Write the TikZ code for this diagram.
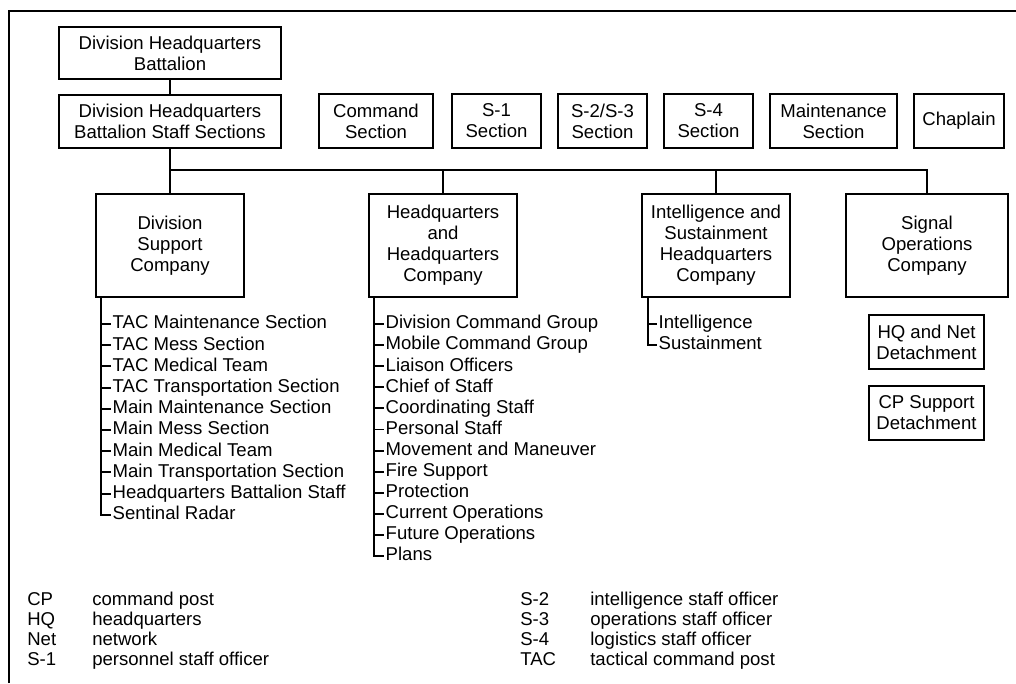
\documentclass[tikz,border=0pt]{standalone}
\usepackage{fontspec}
\setmainfont{Liberation Sans}
\usetikzlibrary{positioning,calc}

\begin{document}
\begin{tikzpicture}[x=0.025cm,y=-0.025cm,
    font=\fontsize{13.2}{14.9}\selectfont,
    box/.style={draw,line width=1.4pt,align=center,inner sep=0pt},
    sect/.style={box,minimum width=2.225cm,minimum height=1.35cm},
    co/.style={box,minimum width=3.7cm,minimum height=2.575cm},
    det/.style={box,minimum width=2.875cm,minimum height=1.35cm},
    wire/.style={line width=1.4pt},
    item/.style={anchor=west,inner xsep=1pt,inner ysep=0pt,text height=9.5pt,text depth=2.6pt},
    legtxt/.style={anchor=west,inner sep=0pt,text height=9.5pt,text depth=2.6pt}]
    \useasboundingbox (0,0) rectangle (1016,683);
    \draw[wire] (9,683) |- (1016,11);
    \node[box,minimum width=5.55cm,minimum height=1.3cm] (dhb) at (170,53)
      {Division Headquarters\\Battalion};
    \node[box,minimum width=5.55cm,minimum height=1.32cm] (dhbss) at (170,121.5)
      {Division Headquarters\\Battalion Staff Sections};
    \node[box,minimum width=2.85cm,minimum height=1.35cm] (cmd) at (376,121) {Command\\Section};
    \node[sect,right=0.425cm of cmd] (s1) {S-1\\Section};
    \node[sect,right=0.375cm of s1] (s23) {S-2/S-3\\Section};
    \node[sect,right=0.375cm of s23] (s4) {S-4\\Section};
    \node[sect,minimum width=3.175cm,right=0.375cm of s4] (mnt) {Maintenance\\Section};
    \node[sect,minimum width=2.25cm,right=0.375cm of mnt] (chap) {Chaplain};
    \node[co] (dsc) at (170,245.5) {Division\\Support\\Company};
    \node[co] (hhc) at (443,245.5) {Headquarters\\and\\Headquarters\\Company};
    \node[co] (ishq) at (716,245.5) {Intelligence and\\Sustainment\\Headquarters\\Company};
    \node[co,minimum width=4.05cm] (soc) at (927,245.5) {Signal\\Operations\\Company};
    \node[det] (hqnet) at (926.5,342) {HQ and Net\\Detachment};
    \node[det,below=0.375cm of hqnet] (cpsup) {CP Support\\Detachment};
    \coordinate (bus) at (0,170);
    \draw[wire] (dhb) -- (dhbss);
    \draw[wire] (dhbss) -- (dsc);
    \draw[wire] (dsc.north |- bus) -| (soc.north);
    \foreach \c in {hhc,ishq}
      \draw[wire] (\c.north |- bus) -- (\c.north);
    \coordinate (dsct) at ($(dsc.south west)+(6,0)$);
    \coordinate (hhct) at ($(hhc.south west)+(6,0)$);
    \coordinate (ishqt) at ($(ishq.south west)+(7,0)$);
    \foreach \t [count=\i] in {TAC Maintenance Section,TAC Mess Section,TAC Medical Team,
        TAC Transportation Section,Main Maintenance Section,Main Mess Section,Main Medical Team,
        Main Transportation Section,Headquarters Battalion Staff,Sentinal Radar}
      \node[item] (dsc\i) at ($(dsct)+(10,{26+21.2*(\i-1)})$) {\t};
    \foreach \t [count=\i] in {Division Command Group,Mobile Command Group,Liaison Officers,
        Chief of Staff,Coordinating Staff,Personal Staff,Movement and Maneuver,Fire Support,
        Protection,Current Operations,Future Operations,Plans}
      \node[item] (hhc\i) at ($(hhct)+(10,{26+21.1*(\i-1)})$) {\t};
    \foreach \t [count=\i] in {Intelligence,Sustainment}
      \node[item] (ishq\i) at ($(ishqt)+(9,{26+21.1*(\i-1)})$) {\t};
    \draw[wire] (dsct) |- (dsc10.west);
    \foreach \i in {1,...,9}
      \draw[wire] (dsc\i.west -| dsct) -- (dsc\i.west);
    \draw[wire] (hhct) |- (hhc12.west);
    \foreach \i in {1,...,11}
      \draw[wire] (hhc\i.west -| hhct) -- (hhc\i.west);
    \draw[wire] (ishqt) |- (ishq2.west);
    \draw[wire] (ishq1.west -| ishqt) -- (ishq1.west);
    \foreach \a/\d [count=\i] in {CP/command post,HQ/headquarters,Net/network,S-1/personnel staff officer} {
      \node[legtxt] (la\i) at (27,{601+20*(\i-1)}) {\a};
      \node[legtxt] (ld\i) at (92,{601+20*(\i-1)}) {\d};
    }
    \foreach \a/\d [count=\i] in {S-2/intelligence staff officer,S-3/operations staff officer,
        S-4/logistics staff officer,TAC/tactical command post} {
      \node[legtxt] (ra\i) at (520,{601+20*(\i-1)}) {\a};
      \node[legtxt] (rd\i) at (590,{601+20*(\i-1)}) {\d};
    }
  \end{tikzpicture}
\end{document}
